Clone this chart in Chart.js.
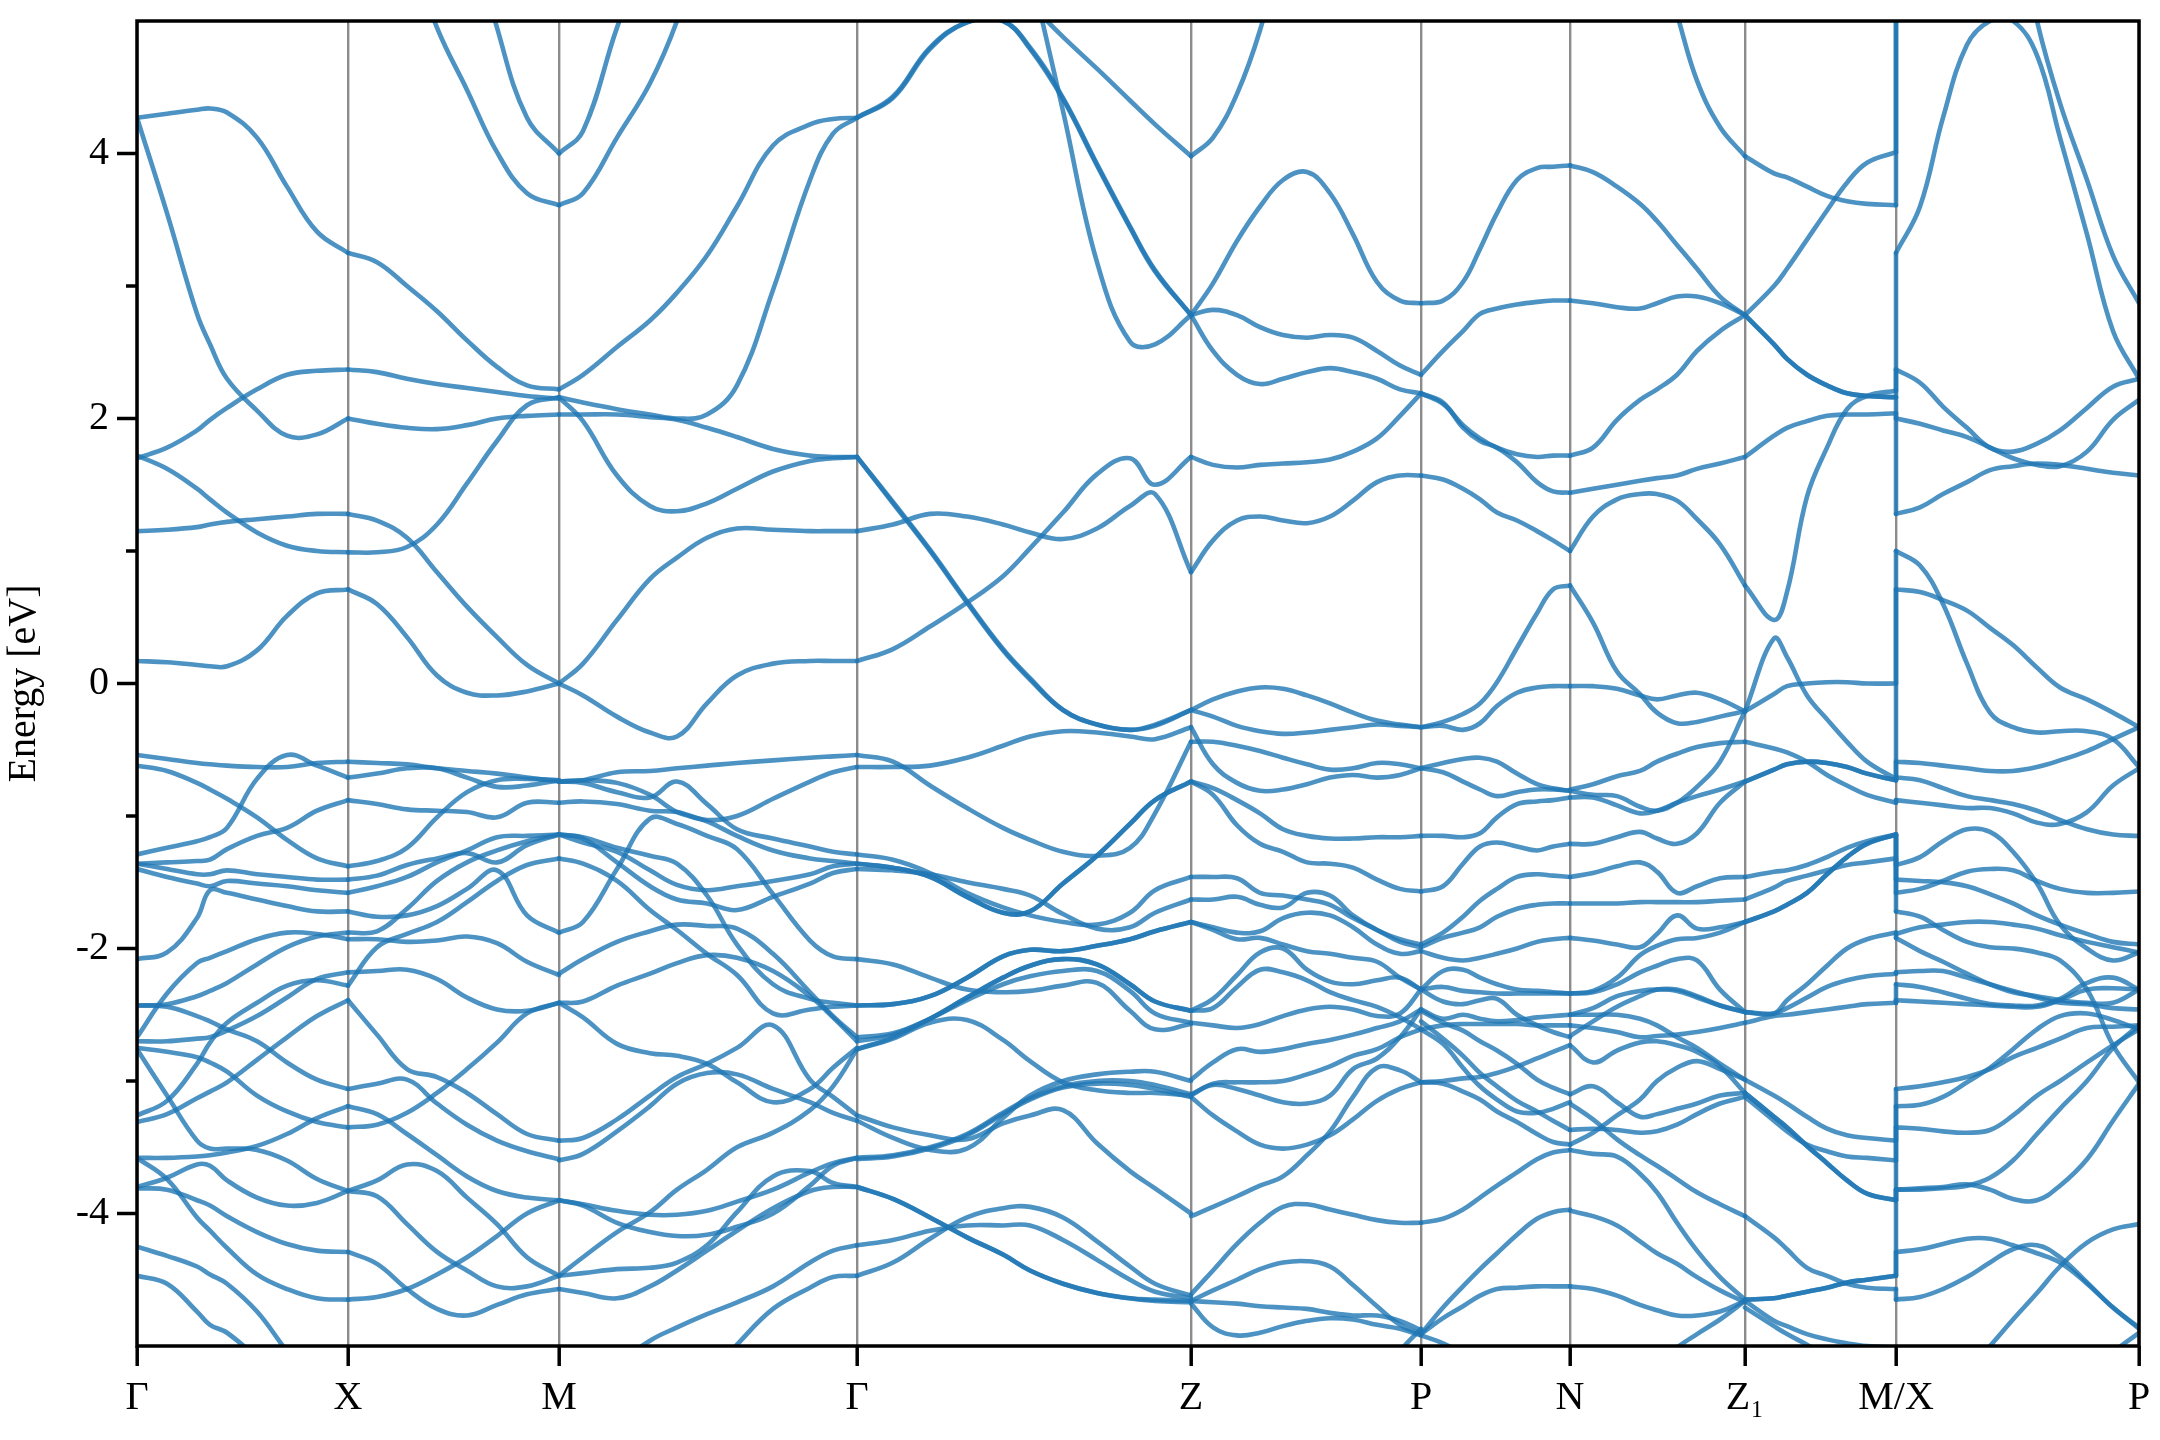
<!DOCTYPE html>
<html>
<head>
<meta charset="utf-8">
<title>Band structure</title>
<script src="https://cdn.jsdelivr.net/npm/chart.js@4/dist/chart.umd.min.js"></script>
<style>
  html, body { margin: 0; padding: 0; background: #fff; }
  #wrap { width: 2160px; height: 1440px; }
</style>
</head>
<body>
<div id="wrap"><canvas id="bands"></canvas></div>
<script>
// high symmetry points along the k path
const kTicks = [0, 211, 422, 720, 1054, 1284, 1433, 1608, 1759, 2002];
const kLabels = ["Γ", "X", "M", "Γ", "Z", "P", "N", "Z₁", "M/X", "P"];
const energyTicks = [-4, -2, 0, 2, 4];
const energyMinor = [-3, -1, 1, 3];

// Γ - X
const seg1K = [0, 30, 60, 73, 90, 120, 150, 180, 211];
const seg1E = [
  [4.27,4.30,4.33,4.34,4.31,4.12,3.75,3.41,3.25],
  [4.27,3.55,2.79,2.56,2.30,2.06,1.87,1.88,2.00],
  [1.70,1.78,1.91,1.99,2.08,2.22,2.33,2.36,2.37],
  [1.72,1.62,1.47,1.39,1.29,1.14,1.04,1.00,0.99],
  [1.15,1.16,1.18,1.20,1.22,1.24,1.26,1.28,1.28],
  [0.17,0.16,0.14,0.13,0.13,0.25,0.51,0.68,0.71],
  [-0.54,-0.57,-0.60,-0.61,-0.62,-0.63,-0.63,-0.60,-0.59],
  [-0.62,-0.66,-0.75,-0.80,-0.87,-1.01,-1.18,-1.32,-1.38],
  [-1.29,-1.24,-1.19,-1.16,-1.09,-0.72,-0.54,-0.62,-0.71],
  [-1.36,-1.35,-1.34,-1.33,-1.25,-1.15,-1.09,-0.96,-0.88],
  [-1.36,-1.40,-1.44,-1.44,-1.41,-1.44,-1.46,-1.48,-1.48],
  [-1.40,-1.46,-1.51,-1.53,-1.49,-1.51,-1.53,-1.56,-1.58],
  [-2.08,-2.03,-1.77,-1.56,-1.58,-1.63,-1.68,-1.72,-1.72],
  [-2.67,-2.34,-2.11,-2.07,-2.02,-1.93,-1.88,-1.89,-1.93],
  [-2.43,-2.42,-2.36,-2.32,-2.26,-2.12,-1.99,-1.91,-1.88],
  [-2.43,-2.44,-2.51,-2.55,-2.61,-2.70,-2.86,-2.99,-3.06],
  [-3.31,-3.25,-3.13,-3.08,-3.01,-2.84,-2.67,-2.51,-2.39],
  [-3.26,-3.15,-2.87,-2.71,-2.56,-2.41,-2.28,-2.24,-2.28],
  [-2.70,-2.70,-2.68,-2.67,-2.62,-2.51,-2.37,-2.23,-2.18],
  [-2.76,-3.11,-3.45,-3.51,-3.51,-3.52,-3.60,-3.74,-3.83],
  [-2.75,-2.78,-2.82,-2.86,-2.93,-3.11,-3.23,-3.31,-3.35],
  [-3.58,-3.58,-3.57,-3.56,-3.54,-3.49,-3.40,-3.28,-3.19],
  [-3.80,-3.73,-3.63,-3.64,-3.75,-3.88,-3.94,-3.92,-3.83],
  [-3.58,-3.74,-4.03,-4.13,-4.26,-4.46,-4.57,-4.64,-4.65],
  [-3.81,-3.82,-3.90,-3.94,-4.02,-4.14,-4.23,-4.28,-4.29],
  [-4.25,-4.32,-4.40,-4.46,-4.53,-4.74,-5.04,-5.31,-5.57],
  [-4.47,-4.53,-4.74,-4.84,-4.90,-5.09,-5.31,-5.57,-5.82]
];

// X - M
const seg2K = [211, 240, 270, 300, 330, 360, 390, 422];
const seg2E = [
  [3.25,3.18,3.00,2.81,2.59,2.39,2.25,2.22],
  [2.37,2.35,2.30,2.26,2.23,2.20,2.17,2.15],
  [2.00,1.96,1.93,1.92,1.95,2.00,2.02,2.03],
  [1.28,1.23,1.10,0.84,0.58,0.35,0.14,0.00],
  [0.99,0.99,1.03,1.20,1.51,1.83,2.10,2.16],
  [0.71,0.60,0.35,0.06,-0.07,-0.09,-0.06,0.00],
  [null,null,5.60,4.95,4.48,4.01,3.70,3.61],
  [null,null,null,null,5.80,4.95,4.27,4.00],
  [-0.59,-0.60,-0.61,-0.64,-0.66,-0.68,-0.71,-0.74],
  [-0.71,-0.68,-0.64,-0.64,-0.71,-0.78,-0.77,-0.73],
  [-1.38,-1.34,-1.24,-1.01,-0.82,-0.73,-0.72,-0.73],
  [-0.88,-0.91,-0.95,-0.96,-0.97,-1.01,-0.90,-0.90],
  [-1.48,-1.45,-1.37,-1.32,-1.28,-1.35,-1.22,-1.14],
  [-1.58,-1.53,-1.46,-1.35,-1.26,-1.16,-1.15,-1.14],
  [-1.72,-1.76,-1.75,-1.68,-1.55,-1.41,-1.75,-1.88],
  [-1.88,-1.87,-1.70,-1.49,-1.35,-1.26,-1.19,-1.14],
  [-2.28,-1.99,-1.89,-1.80,-1.65,-1.49,-1.37,-1.32],
  [-1.93,-1.93,-1.95,-1.94,-1.91,-1.96,-2.10,-2.20],
  [-2.18,-2.17,-2.16,-2.23,-2.37,-2.46,-2.47,-2.41],
  [-2.39,-2.65,-2.91,-2.97,-3.09,-3.25,-3.40,-3.45],
  [-3.06,-3.02,-2.99,-3.17,-3.33,-3.45,-3.53,-3.59],
  [-3.19,-3.25,-3.40,-3.56,-3.72,-3.83,-3.88,-3.90],
  [-3.35,-3.33,-3.24,-3.09,-2.91,-2.71,-2.49,-2.41],
  [-3.83,-3.75,-3.63,-3.68,-3.88,-4.08,-4.33,-4.47],
  [-3.83,-3.87,-4.08,-4.29,-4.43,-4.55,-4.55,-4.47],
  [-4.29,-4.38,-4.57,-4.72,-4.77,-4.69,-4.61,-4.57],
  [-4.65,-4.63,-4.57,-4.46,-4.33,-4.17,-4.00,-3.90]
];

// M - Γ
const seg3K = [422, 446, 480, 513, 540, 570, 600, 636, 673, 696, 720];
const seg3E = [
  [3.61,3.70,4.12,4.53,5.00,5.70,null,null,null,null,null],
  [4.00,4.17,4.95,5.60,null,null,null,null,null,null,null],
  [2.22,2.33,2.54,2.74,2.95,3.23,3.60,4.06,4.22,4.26,4.27],
  [2.16,2.12,2.07,2.03,2.00,2.03,2.25,2.97,3.80,4.15,4.27],
  [2.03,2.03,2.03,2.01,1.99,1.93,1.86,1.77,1.72,1.71,1.71],
  [2.16,1.98,1.57,1.34,1.30,1.36,1.47,1.60,1.68,1.70,1.71],
  [0.00,0.15,0.48,0.79,0.95,1.10,1.17,1.16,1.15,1.15,1.15],
  [0.00,-0.09,-0.25,-0.37,-0.40,-0.15,0.06,0.15,0.17,0.17,0.17],
  [-0.74,-0.73,-0.67,-0.66,-0.64,-0.62,-0.60,-0.58,-0.56,-0.55,-0.54],
  [-0.74,-0.75,-0.82,-0.86,-0.74,-0.91,-1.10,-1.17,-1.23,-1.27,-1.29],
  [-0.74,-0.73,-0.75,-0.84,-0.97,-1.04,-1.15,-1.26,-1.32,-1.34,-1.36],
  [-0.90,-0.89,-0.91,-0.96,-0.97,-1.03,-1.00,-0.87,-0.74,-0.67,-0.63],
  [-1.14,-1.16,-1.24,-1.30,-1.36,-1.60,-1.97,-2.27,-2.38,-2.41,-2.43],
  [-1.14,-1.20,-1.27,-1.41,-1.52,-1.56,-1.53,-1.49,-1.44,-1.38,-1.36],
  [-1.14,-1.17,-1.35,-1.53,-1.63,-1.66,-1.71,-1.61,-1.51,-1.43,-1.40],
  [-1.88,-1.80,-1.40,-1.02,-1.06,-1.15,-1.25,-1.59,-1.94,-2.06,-2.08],
  [-1.32,-1.36,-1.49,-1.71,-1.86,-2.04,-2.20,-2.49,-2.46,-2.44,-2.43],
  [-2.19,-2.08,-1.95,-1.87,-1.82,-1.83,-1.85,-2.04,-2.33,-2.51,-2.67],
  [-2.41,-2.40,-2.28,-2.19,-2.11,-2.05,-2.07,-2.17,-2.36,-2.52,-2.70],
  [-2.41,-2.52,-2.72,-2.79,-2.81,-2.87,-3.01,-3.16,-3.06,-2.90,-2.75],
  [-3.45,-3.43,-3.29,-3.11,-2.97,-2.87,-2.75,-2.58,-2.99,-3.12,-3.26],
  [-3.60,-3.55,-3.38,-3.19,-3.02,-2.94,-2.95,-3.06,-3.16,-3.24,-3.30],
  [-4.47,-4.33,-4.14,-3.99,-3.82,-3.67,-3.50,-3.39,-3.22,-3.04,-2.76],
  [-3.90,-3.93,-3.98,-4.01,-4.01,-3.98,-3.91,-3.82,-3.69,-3.62,-3.58],
  [-3.90,-3.94,-4.07,-4.14,-4.17,-4.16,-4.10,-4.00,-3.79,-3.64,-3.58],
  [-4.47,-4.45,-4.42,-4.41,-4.37,-4.24,-3.99,-3.72,-3.68,-3.77,-3.80],
  [-4.57,-4.60,-4.64,-4.55,-4.43,-4.28,-4.13,-3.96,-3.83,-3.80,-3.80],
  [-5.69,-5.47,-5.15,-4.96,-4.86,-4.76,-4.67,-4.55,-4.37,-4.28,-4.24],
  [-6.32,-6.12,-5.87,-5.64,-5.47,-5.24,-4.99,-4.72,-4.56,-4.48,-4.47]
];

// Γ - Z
const seg4K = [720, 756, 793, 830, 866, 893, 926, 960, 993, 1018, 1054];
const seg4E = [
  [4.27,4.42,4.79,4.99,5.00,4.79,4.41,3.91,3.44,3.11,2.78],
  [4.27,4.43,4.80,4.99,5.00,4.80,4.42,3.92,3.45,3.12,2.78],
  [null,null,null,null,null,5.40,4.32,3.18,2.58,2.56,2.78],
  [null,null,null,null,null,5.13,4.88,4.64,4.40,4.22,3.98],
  [1.71,1.36,1.00,0.61,0.25,0.03,-0.20,-0.31,-0.35,-0.32,-0.20],
  [1.71,1.37,1.01,0.62,0.26,0.04,-0.20,-0.31,-0.35,-0.31,-0.20],
  [0.17,0.26,0.43,0.61,0.81,1.02,1.29,1.58,1.70,1.50,1.71],
  [1.15,1.20,1.28,1.26,1.20,1.14,1.09,1.17,1.34,1.43,0.84],
  [-0.54,-0.59,-0.77,-0.94,-1.09,-1.18,-1.27,-1.30,-1.24,-0.98,-0.44],
  [-0.63,-0.63,-0.62,-0.56,-0.47,-0.40,-0.36,-0.37,-0.40,-0.42,-0.33],
  [-1.36,-1.39,-1.46,-1.61,-1.73,-1.72,-1.51,-1.30,-1.06,-0.88,-0.74],
  [-1.36,-1.39,-1.46,-1.61,-1.73,-1.72,-1.51,-1.30,-1.06,-0.88,-0.74],
  [-1.29,-1.33,-1.43,-1.58,-1.69,-1.75,-1.80,-1.82,-1.73,-1.56,-1.46],
  [-1.40,-1.41,-1.44,-1.50,-1.55,-1.60,-1.74,-1.85,-1.84,-1.73,-1.63],
  [-2.08,-2.12,-2.22,-2.31,-2.33,-2.32,-2.28,-2.26,-2.47,-2.61,-2.57],
  [-2.43,-2.42,-2.36,-2.22,-2.06,-2.01,-2.02,-1.98,-1.93,-1.87,-1.80],
  [-2.43,-2.42,-2.36,-2.22,-2.06,-2.01,-2.02,-1.98,-1.93,-1.87,-1.80],
  [-2.76,-2.67,-2.53,-2.37,-2.22,-2.13,-2.08,-2.12,-2.27,-2.40,-2.47],
  [-2.70,-2.65,-2.53,-2.37,-2.22,-2.13,-2.08,-2.12,-2.27,-2.40,-2.47],
  [-2.67,-2.64,-2.53,-2.39,-2.27,-2.21,-2.17,-2.17,-2.32,-2.49,-2.56],
  [-2.76,-2.68,-2.56,-2.54,-2.69,-2.85,-3.01,-3.07,-3.09,-3.09,-3.11],
  [-3.26,-3.35,-3.41,-3.44,-3.32,-3.26,-3.22,-3.47,-3.68,-3.81,-4.00],
  [-3.30,-3.43,-3.52,-3.51,-3.28,-3.11,-3.00,-2.95,-2.93,-2.93,-3.00],
  [-3.58,-3.56,-3.50,-3.40,-3.24,-3.13,-3.04,-3.00,-3.00,-3.03,-3.10],
  [-3.59,-3.57,-3.51,-3.41,-3.25,-3.14,-3.05,-3.02,-3.03,-3.06,-3.12],
  [-3.80,-3.89,-4.03,-4.18,-4.31,-4.43,-4.53,-4.60,-4.64,-4.65,-4.66],
  [-3.80,-3.89,-4.03,-4.18,-4.31,-4.43,-4.53,-4.60,-4.64,-4.66,-4.67],
  [-4.24,-4.20,-4.13,-4.09,-4.09,-4.09,-4.20,-4.35,-4.50,-4.59,-4.64],
  [-4.47,-4.37,-4.19,-4.03,-3.96,-3.95,-4.03,-4.21,-4.40,-4.53,-4.62]
];

// Z - P
const seg5K = [1054, 1076, 1100, 1123, 1146, 1170, 1193, 1216, 1240, 1263, 1284];
const seg5E = [
  [3.98,4.12,4.45,4.93,5.60,null,null,null,null,null,null],
  [2.78,3.02,3.34,3.60,3.80,3.86,3.70,3.39,3.03,2.89,2.87],
  [2.78,2.82,2.78,2.69,2.63,2.61,2.63,2.61,2.51,2.40,2.33],
  [2.78,2.51,2.33,2.26,2.30,2.35,2.38,2.35,2.30,2.22,2.19],
  [1.71,1.65,1.63,1.65,1.66,1.67,1.69,1.75,1.85,2.02,2.19],
  [0.84,1.08,1.23,1.26,1.23,1.21,1.26,1.38,1.52,1.57,1.57],
  [-0.20,-0.12,-0.06,-0.03,-0.04,-0.09,-0.15,-0.22,-0.28,-0.31,-0.33],
  [-0.20,-0.25,-0.32,-0.36,-0.38,-0.37,-0.35,-0.33,-0.31,-0.32,-0.33],
  [-0.33,-0.61,-0.75,-0.81,-0.80,-0.76,-0.71,-0.69,-0.71,-0.69,-0.64],
  [-0.44,-0.44,-0.47,-0.51,-0.56,-0.61,-0.65,-0.64,-0.60,-0.61,-0.64],
  [-0.74,-0.84,-1.07,-1.21,-1.27,-1.35,-1.36,-1.39,-1.48,-1.55,-1.57],
  [-0.74,-0.79,-0.88,-0.98,-1.10,-1.15,-1.17,-1.17,-1.16,-1.16,-1.15],
  [-1.46,-1.46,-1.47,-1.58,-1.60,-1.63,-1.67,-1.77,-1.86,-1.95,-1.99],
  [-1.63,-1.63,-1.61,-1.67,-1.69,-1.58,-1.60,-1.75,-1.86,-1.93,-1.97],
  [-1.80,-1.84,-1.88,-1.87,-1.77,-1.73,-1.75,-1.84,-1.97,-2.04,-2.02],
  [-1.80,-1.86,-1.93,-1.92,-1.97,-2.02,-2.04,-2.07,-2.10,-2.22,-2.31],
  [-2.47,-2.38,-2.20,-2.03,-2.00,-2.16,-2.25,-2.27,-2.24,-2.22,-2.31],
  [-2.47,-2.45,-2.29,-2.16,-2.18,-2.24,-2.33,-2.39,-2.44,-2.52,-2.61],
  [-2.56,-2.58,-2.60,-2.57,-2.51,-2.46,-2.44,-2.46,-2.51,-2.49,-2.31],
  [-2.99,-2.86,-2.76,-2.78,-2.76,-2.72,-2.69,-2.65,-2.60,-2.55,-2.46],
  [-3.10,-3.03,-3.06,-3.11,-3.16,-3.17,-3.11,-2.91,-2.83,-2.67,-2.46],
  [-3.11,-3.02,-3.01,-3.01,-3.00,-2.95,-2.89,-2.81,-2.76,-2.67,-2.61],
  [-3.12,-3.26,-3.38,-3.48,-3.51,-3.48,-3.41,-3.29,-3.15,-3.06,-3.01],
  [-4.02,-3.95,-3.87,-3.79,-3.72,-3.56,-3.38,-3.12,-2.90,-2.92,-3.01],
  [-4.61,-4.43,-4.23,-4.07,-3.95,-3.93,-3.97,-4.01,-4.05,-4.07,-4.07],
  [-4.66,-4.58,-4.50,-4.42,-4.37,-4.36,-4.40,-4.54,-4.70,-4.84,-4.91],
  [-4.66,-4.67,-4.68,-4.70,-4.71,-4.72,-4.75,-4.77,-4.77,-4.81,-4.88],
  [-4.68,-4.86,-4.92,-4.90,-4.85,-4.81,-4.79,-4.80,-4.84,-4.87,-4.92],
  [null,null,null,null,null,null,null,null,-5.31,-5.04,-4.87]
];

// P - N
const seg6K = [1284, 1306, 1326, 1343, 1360, 1380, 1400, 1416, 1433];
const seg6E = [
  [2.87,2.89,3.03,3.28,3.55,3.80,3.89,3.90,3.91],
  [2.33,2.51,2.66,2.79,2.83,2.86,2.88,2.89,2.89],
  [2.19,2.11,1.95,1.85,1.78,1.73,1.71,1.72,1.72],
  [2.19,2.12,1.93,1.83,1.78,1.67,1.52,1.45,1.44],
  [1.57,1.54,1.47,1.39,1.29,1.23,1.15,1.08,1.00],
  [-0.33,-0.32,-0.35,-0.30,-0.17,-0.07,-0.03,-0.02,-0.02],
  [-0.33,-0.29,-0.23,-0.15,0.01,0.27,0.53,0.71,0.74],
  [-0.64,-0.60,-0.57,-0.56,-0.59,-0.68,-0.76,-0.79,-0.81],
  [-0.64,-0.67,-0.74,-0.80,-0.85,-0.82,-0.80,-0.80,-0.81],
  [-1.15,-1.15,-1.16,-1.13,-1.01,-0.91,-0.89,-0.88,-0.86],
  [-1.57,-1.53,-1.36,-1.23,-1.20,-1.23,-1.26,-1.23,-1.21],
  [-1.97,-1.88,-1.76,-1.64,-1.55,-1.46,-1.44,-1.45,-1.46],
  [-1.99,-1.92,-1.88,-1.84,-1.76,-1.70,-1.67,-1.66,-1.66],
  [-2.02,-2.07,-2.09,-2.07,-2.04,-2.00,-1.95,-1.93,-1.92],
  [-2.31,-2.17,-2.16,-2.22,-2.27,-2.31,-2.32,-2.33,-2.34],
  [-2.31,-2.29,-2.32,-2.33,-2.34,-2.34,-2.34,-2.34,-2.34],
  [-2.31,-2.40,-2.42,-2.39,-2.38,-2.50,-2.58,-2.63,-2.67],
  [-2.46,-2.53,-2.50,-2.53,-2.55,-2.54,-2.52,-2.51,-2.50],
  [-2.61,-2.58,-2.57,-2.57,-2.57,-2.57,-2.58,-2.58,-2.58],
  [-2.61,-2.72,-2.90,-3.04,-3.14,-3.23,-3.24,-3.21,-3.16],
  [-2.55,-2.68,-2.81,-2.94,-3.04,-3.15,-3.23,-3.30,-3.37],
  [-2.47,-2.56,-2.62,-2.70,-2.77,-2.87,-2.99,-3.05,-3.10],
  [-3.01,-3.02,-3.08,-3.14,-3.23,-3.31,-3.40,-3.46,-3.48],
  [-3.01,-3.00,-2.98,-2.97,-2.94,-2.89,-2.83,-2.78,-2.73],
  [-4.07,-4.04,-3.97,-3.88,-3.79,-3.69,-3.59,-3.54,-3.52],
  [-4.91,-4.71,-4.55,-4.42,-4.30,-4.16,-4.04,-3.99,-3.97],
  [-4.91,-4.79,-4.70,-4.62,-4.57,-4.56,-4.55,-4.55,-4.55],
  [-4.92,-4.98,-5.06,-5.15,null,null,null,null,null]
];

// N - Z1
const seg7K = [1433, 1456, 1480, 1503, 1520, 1540, 1560, 1583, 1608];
const seg7E = [
  [3.91,3.86,3.75,3.62,3.49,3.31,3.13,2.92,2.78],
  [2.89,2.87,2.84,2.83,2.87,2.92,2.92,2.87,2.78],
  [1.72,1.78,1.99,2.14,2.22,2.33,2.51,2.66,2.78],
  [1.44,1.47,1.50,1.53,1.55,1.57,1.62,1.66,1.71],
  [1.00,1.26,1.39,1.43,1.43,1.38,1.24,1.05,0.74],
  [0.74,0.46,0.09,-0.08,-0.22,-0.30,-0.29,-0.25,-0.21],
  [-0.02,-0.02,-0.04,-0.09,-0.12,-0.09,-0.07,-0.12,-0.21],
  [null,null,null,null,null,5.05,4.55,4.20,3.98],
  [-0.80,-0.76,-0.70,-0.66,-0.59,-0.53,-0.48,-0.45,-0.44],
  [-0.81,-0.84,-0.85,-0.93,-0.96,-0.90,-0.78,-0.59,-0.21],
  [-0.86,-0.86,-0.92,-0.98,-0.96,-0.90,-0.85,-0.80,-0.74],
  [-1.21,-1.21,-1.16,-1.12,-1.17,-1.21,-1.13,-0.90,-0.74],
  [-1.46,-1.43,-1.38,-1.35,-1.42,-1.58,-1.53,-1.47,-1.46],
  [-1.66,-1.66,-1.66,-1.65,-1.65,-1.65,-1.65,-1.64,-1.63],
  [-1.92,-1.94,-1.97,-1.99,-1.89,-1.75,-1.85,-1.84,-1.80],
  [-2.34,-2.32,-2.22,-2.05,-1.98,-1.93,-1.92,-1.88,-1.80],
  [-2.34,-2.33,-2.27,-2.18,-2.13,-2.08,-2.09,-2.31,-2.48],
  [-2.50,-2.45,-2.36,-2.32,-2.31,-2.32,-2.37,-2.43,-2.48],
  [-2.50,-2.50,-2.50,-2.53,-2.58,-2.67,-2.75,-2.87,-2.99],
  [-2.58,-2.60,-2.63,-2.67,-2.66,-2.65,-2.63,-2.60,-2.56],
  [-2.66,-2.55,-2.44,-2.36,-2.31,-2.31,-2.36,-2.43,-2.48],
  [-2.73,-2.86,-2.77,-2.71,-2.70,-2.73,-2.78,-2.89,-3.09],
  [-3.10,-3.04,-3.16,-3.27,-3.25,-3.21,-3.17,-3.11,-3.09],
  [-3.17,-3.29,-3.44,-3.56,-3.64,-3.74,-3.84,-3.93,-4.02],
  [-3.37,-3.36,-3.37,-3.39,-3.38,-3.33,-3.25,-3.17,-3.12],
  [-3.48,-3.39,-3.26,-3.14,-3.00,-2.90,-2.85,-2.91,-2.99],
  [-3.52,-3.55,-3.57,-3.70,-3.84,-4.07,-4.28,-4.48,-4.65],
  [-3.98,-4.02,-4.09,-4.21,-4.30,-4.38,-4.48,-4.58,-4.67],
  [-4.55,-4.57,-4.62,-4.69,-4.73,-4.77,-4.77,-4.74,-4.66],
  [null,null,null,null,-5.13,-5.01,-4.91,-4.80,-4.66]
];

// Z1 - M
const seg8K = [1608, 1637, 1650, 1670, 1690, 1710, 1730, 1759];
const seg8E = [
  [3.98,3.85,3.82,3.75,3.68,3.64,3.62,3.61],
  [2.78,3.00,3.13,3.35,3.57,3.78,3.93,4.01],
  [2.78,2.56,2.45,2.33,2.25,2.19,2.17,2.16],
  [2.78,2.56,2.45,2.33,2.25,2.19,2.17,2.16],
  [1.71,1.87,1.93,1.98,2.02,2.03,2.03,2.04],
  [0.74,0.48,0.69,1.41,1.78,2.07,2.17,2.21],
  [-0.21,-0.08,-0.02,0.00,0.01,0.01,0.00,0.00],
  [-0.21,0.34,0.20,-0.09,-0.27,-0.44,-0.59,-0.72],
  [-0.44,-0.49,-0.52,-0.59,-0.69,-0.77,-0.84,-0.90],
  [-0.74,-0.65,-0.61,-0.59,-0.60,-0.63,-0.68,-0.73],
  [-0.74,-0.65,-0.61,-0.59,-0.60,-0.63,-0.68,-0.73],
  [-1.46,-1.42,-1.41,-1.37,-1.31,-1.24,-1.19,-1.14],
  [-1.63,-1.54,-1.49,-1.45,-1.41,-1.37,-1.35,-1.32],
  [-1.80,-1.72,-1.67,-1.58,-1.44,-1.31,-1.21,-1.14],
  [-1.80,-1.72,-1.67,-1.58,-1.44,-1.31,-1.21,-1.14],
  [-2.48,-2.49,-2.39,-2.27,-2.13,-2.00,-1.93,-1.88],
  [-2.48,-2.49,-2.45,-2.37,-2.29,-2.24,-2.21,-2.19],
  [-2.56,-2.51,-2.50,-2.48,-2.46,-2.44,-2.42,-2.41],
  [-2.99,-3.11,-3.17,-3.27,-3.36,-3.41,-3.43,-3.45],
  [-3.09,-3.27,-3.35,-3.49,-3.62,-3.75,-3.85,-3.90],
  [-3.09,-3.27,-3.35,-3.49,-3.62,-3.75,-3.85,-3.90],
  [-3.12,-3.30,-3.38,-3.48,-3.53,-3.57,-3.58,-3.60],
  [-4.02,-4.18,-4.27,-4.41,-4.47,-4.53,-4.56,-4.57],
  [-4.65,-4.64,-4.62,-4.59,-4.56,-4.52,-4.50,-4.47],
  [-4.65,-4.64,-4.62,-4.59,-4.56,-4.52,-4.50,-4.47],
  [-4.71,-4.85,-4.91,-4.99,-5.08,-5.20,null,null],
  [-4.66,-4.81,-4.85,-4.91,-4.95,-4.98,-5.00,-5.01]
];

// X - P, after the break in the path
const seg9K = [1759, 1783, 1806, 1830, 1853, 1876, 1900, 1923, 1950, 1976, 2002];
const seg9E = [
  [3.25,3.60,4.27,4.82,5.00,5.00,4.74,4.12,3.39,2.66,2.30],
  [null,null,null,null,null,5.90,5.00,4.38,3.80,3.23,2.87],
  [2.37,2.27,2.09,1.93,1.78,1.75,1.81,1.91,2.08,2.24,2.30],
  [2.00,1.96,1.91,1.86,1.78,1.70,1.65,1.64,1.75,1.99,2.14],
  [1.28,1.33,1.43,1.52,1.61,1.64,1.66,1.65,1.62,1.59,1.57],
  [1.00,0.89,0.60,0.15,-0.22,-0.33,-0.37,-0.36,-0.36,-0.42,-0.63],
  [0.71,0.69,0.63,0.55,0.42,0.29,0.12,-0.03,-0.12,-0.22,-0.33],
  [-0.59,-0.60,-0.62,-0.64,-0.66,-0.66,-0.63,-0.58,-0.51,-0.42,-0.33],
  [-0.71,-0.73,-0.79,-0.85,-0.88,-0.91,-0.96,-1.03,-1.10,-1.14,-1.15],
  [-0.88,-0.90,-0.92,-0.94,-0.94,-0.98,-1.05,-1.06,-0.97,-0.77,-0.64],
  [-1.37,-1.31,-1.19,-1.10,-1.12,-1.27,-1.51,-1.82,-2.00,-2.09,-2.03],
  [-1.58,-1.55,-1.49,-1.42,-1.40,-1.41,-1.49,-1.55,-1.58,-1.58,-1.57],
  [-1.48,-1.49,-1.50,-1.53,-1.59,-1.66,-1.75,-1.82,-1.89,-1.95,-1.97],
  [-1.72,-1.76,-1.86,-1.95,-1.99,-2.00,-2.03,-2.09,-2.31,-2.73,-3.01],
  [-1.92,-2.02,-2.10,-2.19,-2.27,-2.33,-2.36,-2.39,-2.41,-2.41,-2.31],
  [-1.89,-1.84,-1.82,-1.80,-1.80,-1.82,-1.85,-1.90,-1.95,-1.99,-2.03],
  [-2.18,-2.17,-2.17,-2.22,-2.27,-2.32,-2.37,-2.41,-2.42,-2.45,-2.46],
  [-2.27,-2.29,-2.33,-2.38,-2.42,-2.43,-2.43,-2.38,-2.26,-2.22,-2.31],
  [-2.39,-2.40,-2.41,-2.42,-2.43,-2.44,-2.44,-2.39,-2.31,-2.30,-2.31],
  [-3.19,-3.18,-3.12,-3.01,-2.90,-2.76,-2.61,-2.51,-2.49,-2.54,-2.61],
  [-3.06,-3.04,-3.01,-2.97,-2.91,-2.82,-2.75,-2.68,-2.60,-2.59,-2.58],
  [-3.35,-3.36,-3.38,-3.39,-3.37,-3.26,-3.11,-3.00,-2.86,-2.73,-2.61],
  [-3.82,-3.82,-3.81,-3.79,-3.73,-3.60,-3.40,-3.21,-3.00,-2.75,-2.58],
  [-3.82,-3.81,-3.80,-3.78,-3.82,-3.89,-3.90,-3.79,-3.59,-3.30,-3.02],
  [-4.29,-4.27,-4.23,-4.19,-4.19,-4.24,-4.30,-4.37,-4.53,-4.71,-4.87],
  [-4.65,-4.63,-4.57,-4.48,-4.37,-4.27,-4.24,-4.33,-4.52,-4.71,-4.86],
  [null,null,null,-5.19,-5.00,-4.80,-4.60,-4.40,-4.22,-4.12,-4.08],
  [null,null,null,null,null,null,null,null,-5.26,-5.05,-4.90]
];

// the path jumps at M/X, each band runs straight up or down there
const jumpM = [4.01,3.61,2.21,2.16,2.16,2.04,0.00,-0.72,-0.73,-0.73,-0.90,-1.14,-1.14,-1.14,-1.32,-1.88,-2.19,-2.41,-2.41,-3.45,-3.60,-3.90,-3.90,-4.47,-4.47,-4.57];
const jumpX = [5.40,5.40,3.25,2.37,2.00,1.28,1.00,0.71,-0.59,-0.71,-0.88,-1.37,-1.48,-1.58,-1.72,-1.92,-2.18,-2.27,-2.39,-3.06,-3.19,-3.35,-3.82,-3.82,-4.29,-4.65];

const segments = [
  [seg1K, seg1E], [seg2K, seg2E], [seg3K, seg3E], [seg4K, seg4E], [seg5K, seg5E],
  [seg6K, seg6E], [seg7K, seg7E], [seg8K, seg8E], [seg9K, seg9E]
];

const bandColor = 'rgba(31, 119, 180, 0.8)';
const datasets = [];

function addBand(points, tension) {
  datasets.push({
    data: points,
    showLine: true,
    borderColor: bandColor,
    borderWidth: 4.6,
    pointRadius: 0,
    borderCapStyle: 'round',
    borderJoinStyle: 'round',
    tension
  });
}

segments.forEach(([k, rows]) => {
  rows.forEach(row => {
    const points = [];
    row.forEach((e, i) => {
      if (e !== null) points.push({ x: k[i], y: e });
    });
    addBand(points, 0.4);
  });
});

const kBreak = kTicks[8];
jumpM.forEach((e, i) => {
  addBand([{ x: kBreak, y: e }, { x: kBreak, y: jumpX[i] }], 0);
});

const font = { family: "'Liberation Serif', 'Times New Roman', serif", size: 40 };

// black frame and the short unlabeled ticks on the energy axis
const framePlugin = {
  id: 'frame',
  afterDatasetsDraw(chart) {
    const { ctx, chartArea, scales } = chart;
    ctx.save();
    ctx.strokeStyle = '#000';
    ctx.lineWidth = 3.5;
    ctx.strokeRect(chartArea.left, chartArea.top, chartArea.right - chartArea.left, chartArea.bottom - chartArea.top);
    energyMinor.forEach(e => {
      const y = scales.y.getPixelForValue(e);
      ctx.beginPath();
      ctx.moveTo(chartArea.left - 11, y);
      ctx.lineTo(chartArea.left, y);
      ctx.stroke();
    });
    ctx.restore();
  }
};

new Chart(document.getElementById('bands'), {
  type: 'scatter',
  data: { datasets },
  plugins: [framePlugin],
  options: {
    responsive: true,
    maintainAspectRatio: false,
    animation: false,
    events: [],
    elements: { line: { capBezierPoints: false } },
    layout: { padding: { top: 21, right: 21, bottom: 0, left: 0 } },
    plugins: { legend: { display: false }, tooltip: { enabled: false } },
    scales: {
      x: {
        type: 'linear',
        min: kTicks[0],
        max: kTicks[kTicks.length - 1],
        afterBuildTicks(axis) { axis.ticks = kTicks.map(value => ({ value })); },
        afterFit(axis) { axis.height = 94; },
        ticks: {
          autoSkip: false,
          maxRotation: 0,
          padding: 8,
          color: '#000',
          font,
          callback(value) { return kLabels[kTicks.indexOf(value)]; }
        },
        grid: {
          color: 'rgba(0, 0, 0, 0.45)',
          lineWidth: 2.4,
          tickColor: '#000',
          tickWidth: 3.5,
          tickLength: 20
        },
        border: { display: false }
      },
      y: {
        min: -5,
        max: 5,
        afterBuildTicks(axis) { axis.ticks = energyTicks.map(value => ({ value })); },
        afterFit(axis) {
          axis.width = 137;
          axis.paddingTop = 0;
          axis.paddingBottom = 0;
        },
        title: {
          display: true,
          text: 'Energy [eV]',
          color: '#000',
          font,
          padding: 0
        },
        ticks: {
          padding: 8,
          color: '#000',
          font,
          callback(value) { return String(value); }
        },
        grid: {
          drawOnChartArea: false,
          tickColor: '#000',
          tickWidth: 3.5,
          tickLength: 20
        },
        border: { display: false }
      }
    }
  }
});
</script>
</body>
</html>
